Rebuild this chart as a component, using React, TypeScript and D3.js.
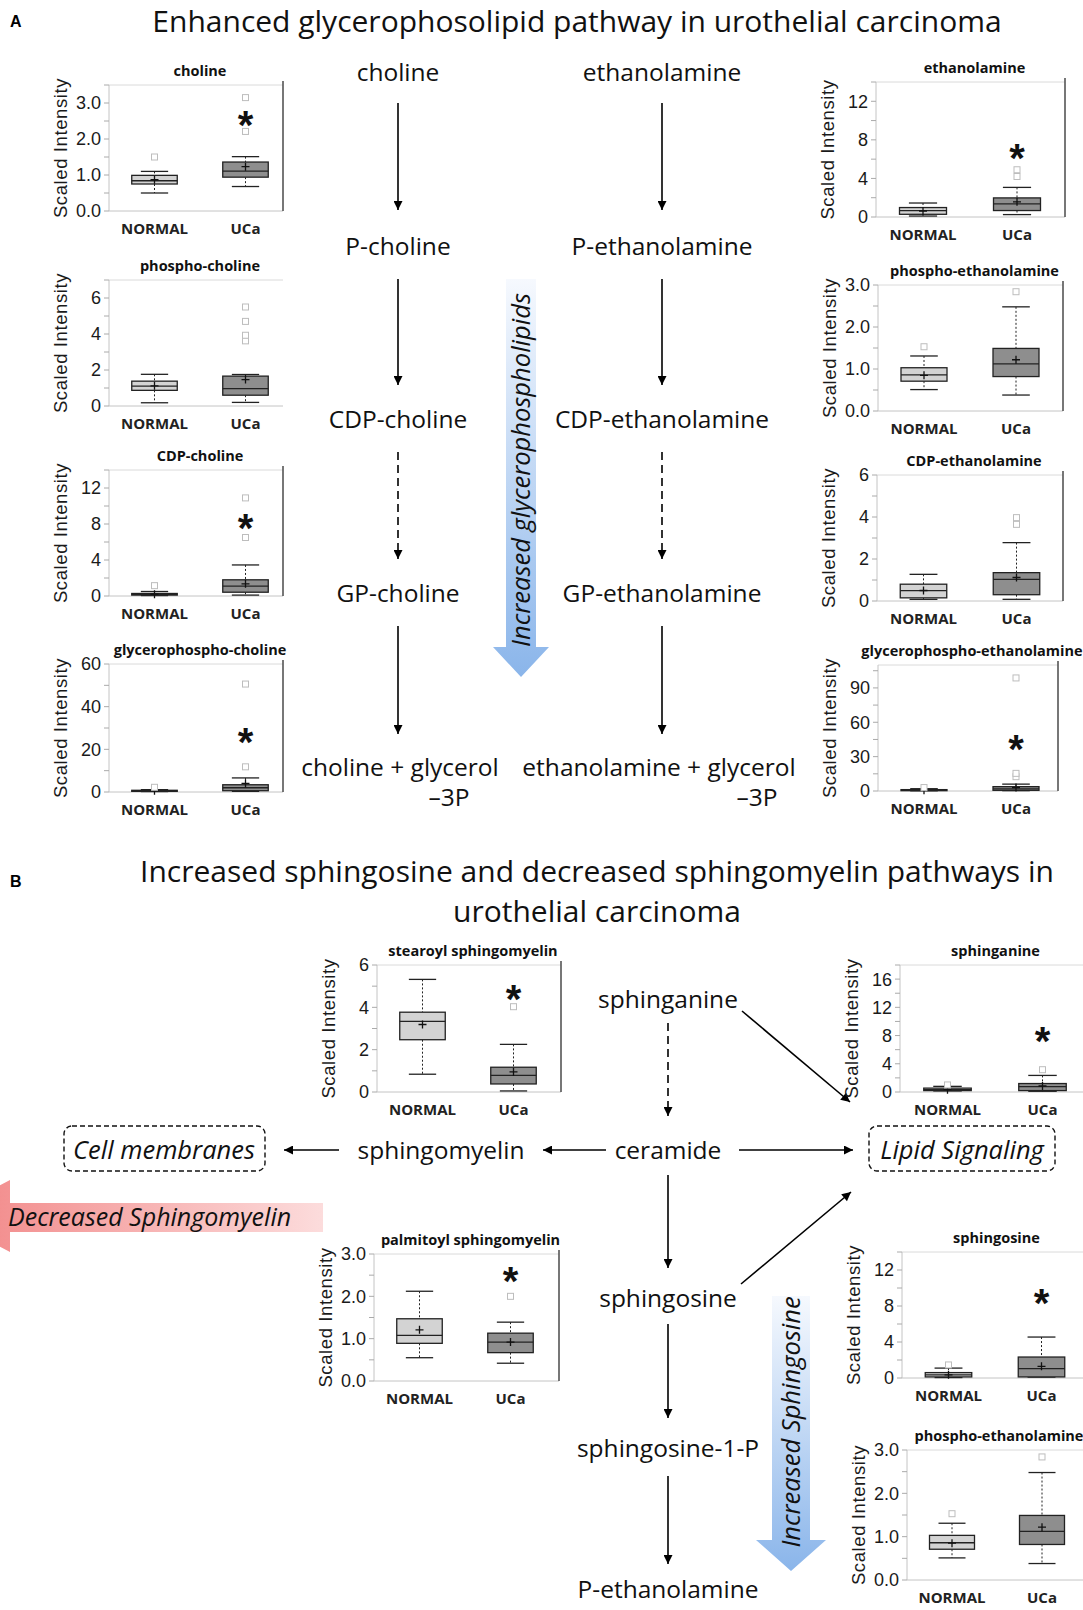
import React from 'react';
import * as d3 from 'd3';

// groups on every box plot
const groups = ['NORMAL', 'UCa'];

const panelNames = [
  'choline', 'phospho-choline', 'CDP-choline', 'glycerophospho-choline',
  'ethanolamine', 'phospho-ethanolamine', 'CDP-ethanolamine', 'glycerophospho-ethanolamine',
  'stearoyl sphingomyelin', 'sphinganine', 'palmitoyl sphingomyelin', 'sphingosine',
  'phospho-ethanolamine',
];
const yMaxes = [3.5, 7, 14, 60, 14, 3, 6, 110, 6, 18, 3, 14, 3];
const majorSteps = [1, 2, 4, 20, 4, 1, 2, 30, 2, 4, 1, 4, 1];
const minorSteps = [0.5, 1, 2, 10, 2, 0.5, 1, 15, 1, 2, 0.5, 2, 0.5];

// [low whisker, q1, median, q3, high whisker, mean]
const normalStats = [
  [0.5, 0.75, 0.84, 0.99, 1.1, 0.87],
  [0.18, 0.87, 1.1, 1.38, 1.76, 1.12],
  [0.05, 0.1, 0.18, 0.28, 0.5, 0.2],
  [0.2, 0.3, 0.5, 0.8, 1.1, 0.6],
  [0.1, 0.28, 0.66, 0.98, 1.45, 0.62],
  [0.51, 0.71, 0.86, 1.03, 1.31, 0.85],
  [0.08, 0.15, 0.49, 0.8, 1.27, 0.5],
  [0.2, 0.3, 0.6, 1.2, 2.0, 0.7],
  [0.84, 2.47, 3.34, 3.77, 5.32, 3.19],
  [0.15, 0.2, 0.35, 0.55, 0.8, 0.33],
  [0.55, 0.89, 1.08, 1.47, 2.12, 1.21],
  [0.05, 0.12, 0.35, 0.6, 1.1, 0.35],
  [0.51, 0.71, 0.86, 1.03, 1.31, 0.85],
];
const ucaStats = [
  [0.68, 0.94, 1.11, 1.36, 1.51, 1.23],
  [0.2, 0.6, 0.96, 1.66, 1.75, 1.47],
  [0.1, 0.42, 1.1, 1.8, 3.45, 1.35],
  [0.3, 0.6, 2.0, 3.4, 6.6, 4.0],
  [0.25, 0.67, 1.36, 1.98, 3.07, 1.57],
  [0.38, 0.82, 1.12, 1.49, 2.48, 1.22],
  [0.08, 0.3, 1.03, 1.35, 2.78, 1.12],
  [0.3, 0.6, 1.8, 3.8, 6.0, 3.0],
  [0.05, 0.38, 0.79, 1.17, 2.25, 0.95],
  [0.1, 0.2, 0.75, 1.2, 2.35, 0.85],
  [0.42, 0.67, 0.92, 1.13, 1.39, 0.92],
  [0.1, 0.12, 1.04, 2.33, 4.55, 1.3],
  [0.38, 0.82, 1.12, 1.49, 2.48, 1.22],
];
const normalOutliers = [[1.5], [], [1.15], [2.2], [], [1.53], [], [3], [], [1.0], [], [1.45], [1.53]];
const ucaOutliers = [
  [2.21, 3.15], [3.62, 3.93, 4.7, 5.5], [6.5, 10.9], [11.8, 50.6], [4.2, 4.9], [2.84],
  [3.65, 3.97], [12.5, 15.4, 98.7], [4.03], [3.16], [2.0], [], [2.84],
];
// significance star height (null = none)
const starValues = [2.62, null, 8.5, 27, 6.9, null, null, 44, 4.77, 8.4, 2.55, 9.2, null];

// where each little plot sits
const layout = [
  { x: 109, y: 85, w: 182, h: 126, right: 283, rline: true },
  { x: 109, y: 280, w: 182, h: 126, right: 283, rline: false },
  { x: 109, y: 470, w: 182, h: 126, right: 283, rline: true },
  { x: 109, y: 664, w: 182, h: 128, right: 283, rline: true },
  { x: 876, y: 82, w: 188, h: 135, right: 1065, rline: true },
  { x: 878, y: 285, w: 184, h: 126, right: 1063, rline: true },
  { x: 877, y: 475, w: 186, h: 126, right: 1063, rline: true },
  { x: 878, y: 665, w: 184, h: 126, right: 1058, rline: true },
  { x: 377, y: 965, w: 182, h: 127, right: 561, rline: true },
  { x: 900, y: 965, w: 190, h: 127, right: 1083, rline: false },
  { x: 374, y: 1254, w: 182, h: 127, right: 559, rline: true },
  { x: 902, y: 1252, w: 186, h: 126, right: 1083, rline: false },
  { x: 907, y: 1450, w: 180, h: 130, right: 1083, rline: false },
];

// pathway labels
const pathLabels = [
  { t: 'choline', x: 398, y: 72 }, { t: 'ethanolamine', x: 662, y: 72 },
  { t: 'P-choline', x: 398, y: 246 }, { t: 'P-ethanolamine', x: 662, y: 246 },
  { t: 'CDP-choline', x: 398, y: 419 }, { t: 'CDP-ethanolamine', x: 662, y: 419 },
  { t: 'GP-choline', x: 398, y: 593 }, { t: 'GP-ethanolamine', x: 662, y: 593 },
  { t: 'choline + glycerol', x: 400, y: 767 }, { t: '\u20133P', x: 449, y: 797 },
  { t: 'ethanolamine + glycerol', x: 659, y: 767 }, { t: '\u20133P', x: 757, y: 797 },
  { t: 'sphinganine', x: 668, y: 999 }, { t: 'ceramide', x: 668, y: 1150 },
  { t: 'sphingomyelin', x: 441, y: 1150 }, { t: 'sphingosine', x: 668, y: 1298 },
  { t: 'sphingosine-1-P', x: 668, y: 1448 }, { t: 'P-ethanolamine', x: 668, y: 1589 },
];
// [x1, y1, x2, y2, dashed]
const pathArrows: [number, number, number, number, boolean][] = [
  [398, 103, 398, 210, false], [398, 279, 398, 385, false], [398, 452, 398, 559, true], [398, 626, 398, 734, false],
  [662, 103, 662, 210, false], [662, 279, 662, 385, false], [662, 452, 662, 559, true], [662, 626, 662, 734, false],
  [668, 1023, 668, 1116, true], [742, 1011, 850, 1102, false],
  [606, 1150, 543, 1150, false], [339, 1150, 284, 1150, false], [739, 1150, 853, 1150, false],
  [668, 1175, 668, 1268, false], [741, 1284, 851, 1192, false],
  [668, 1324, 668, 1418, false], [668, 1476, 668, 1564, false],
];

const sans = "'Liberation Sans', Arial, sans-serif";
const open = "'Open Sans', sans-serif";

function BoxPanel({ i }: { i: number }) {
  const L = layout[i];
  const y0 = L.y + L.h;
  const y = d3.scaleLinear().domain([0, yMaxes[i]]).range([y0, L.y]);
  const x = d3.scalePoint<string>().domain(groups).range([L.x, L.x + L.w]).padding(0.5);
  const bw = L.w * 0.25;
  const cw = bw * 0.6;
  const majors = d3.range(0, yMaxes[i] + 1e-9, majorSteps[i]);
  const minors = d3.range(0, yMaxes[i] + 1e-9, minorSteps[i]);
  const fmt = d3.format(majorSteps[i] < 2 ? '.1f' : '.0f');
  const stats = [normalStats[i], ucaStats[i]];
  const outs = [normalOutliers[i], ucaOutliers[i]];
  const fills = ['#d3d3d3', '#8e8e8e'];
  const star = starValues[i];

  return (
    <g>
      <text x={(L.x + L.right) / 2 + 4} y={L.y - 9} textAnchor="middle" fontFamily={open} fontWeight={700} fontSize={14.5} fill="#111">{panelNames[i]}</text>
      <line x1={L.x} x2={L.right} y1={L.y} y2={L.y} stroke="#dadada" />
      <line x1={L.x} x2={L.x} y1={L.y} y2={y0} stroke="#c4c4c4" />
      <line x1={L.x} x2={L.right} y1={y0} y2={y0} stroke="#c4c4c4" />
      {L.rline && <line x1={L.right} x2={L.right} y1={L.y - 4} y2={y0} stroke="#555" strokeWidth={1.6} />}
      {minors.map((v) => (
        <line key={'m' + v} x1={L.x - 5} x2={L.x} y1={y(v)} y2={y(v)} stroke="#aaa" />
      ))}
      {majors.map((v) => (
        <text key={'t' + v} x={L.x - 8} y={y(v)} dy="0.36em" textAnchor="end" fontFamily={sans} fontSize={18} fill="#1a1a1a">{fmt(v)}</text>
      ))}
      <text transform={`translate(${L.x - 49},${L.y + L.h / 2}) rotate(-90)`} textAnchor="middle" dy="0.36em"
        fontFamily={sans} fontSize={18.5} letterSpacing={0.6} fill="#1a1a1a">Scaled Intensity</text>
      {groups.map((g, k) => {
        const cx = x(g)!;
        const [lo, q1, med, q3, hi, mean] = stats[k];
        return (
          <g key={g}>
            <line x1={cx} x2={cx} y1={y(hi)} y2={y(q3)} stroke="#222" strokeDasharray="2,2" />
            <line x1={cx} x2={cx} y1={y(q1)} y2={y(lo)} stroke="#222" strokeDasharray="2,2" />
            <line x1={cx - cw / 2} x2={cx + cw / 2} y1={y(hi)} y2={y(hi)} stroke="#222" strokeWidth={1.3} />
            <line x1={cx - cw / 2} x2={cx + cw / 2} y1={y(lo)} y2={y(lo)} stroke="#222" strokeWidth={1.3} />
            <rect x={cx - bw / 2} y={y(q3)} width={bw} height={Math.max(1, y(q1) - y(q3))} fill={fills[k]} stroke="#222" strokeWidth={1.3} />
            <line x1={cx - bw / 2} x2={cx + bw / 2} y1={y(med)} y2={y(med)} stroke="#222" strokeWidth={1.3} />
            <path d={`M${cx - 4},${y(mean)}H${cx + 4}M${cx},${y(mean) - 4}V${y(mean) + 4}`} stroke="#111" strokeWidth={1.3} />
            {outs[k].map((o) => (
              <rect key={o} x={cx - 3} y={y(o) - 3} width={6} height={6} fill="#fff" stroke="#bdbdbd" />
            ))}
            <text x={cx} y={y0 + 23} textAnchor="middle" fontFamily={open} fontWeight={700} fontSize={15} fill="#222">{g}</text>
          </g>
        );
      })}
      {star !== null && (
        <text x={x('UCa')!} y={y(star) + 22} textAnchor="middle" fontFamily={sans} fontWeight={700} fontSize={40} fill="#111">*</text>
      )}
    </g>
  );
}

export default function App() {
  return (
    <div style={{ position: 'absolute', left: 0, top: 0 }}>
      <svg width={1083} height={1610} viewBox="0 0 1083 1610" style={{ display: 'block', background: '#fff' }}>
        <defs>
          <marker id="ah" viewBox="0 0 10 10" refX={10} refY={5} markerWidth={11} markerHeight={9}
            markerUnits="userSpaceOnUse" orient="auto">
            <path d="M0,0L10,5L0,10z" fill="#000" />
          </marker>
          <linearGradient id="blueA" x1="0" y1="0" x2="0" y2="1">
            <stop offset="0" stopColor="#f6f9fe" />
            <stop offset="1" stopColor="#8ab5ea" />
          </linearGradient>
          <linearGradient id="redB" x1="0" y1="0" x2="1" y2="0">
            <stop offset="0" stopColor="#ee6363" />
            <stop offset="0.08" stopColor="#f28a8a" />
            <stop offset="1" stopColor="#fcdcdc" />
          </linearGradient>
        </defs>

        <text x={10} y={27} fontFamily={sans} fontWeight={700} fontSize={16}>A</text>
        <text x={577} y={32} textAnchor="middle" fontFamily={open} fontSize={30} fill="#111">Enhanced glycerophosolipid pathway in urothelial carcinoma</text>

        {/* big blue arrow, panel A */}
        <path d="M506,279H536V647H549L521,677L493,647H506Z" fill="url(#blueA)" />
        <text transform="translate(521,470) rotate(-90)" textAnchor="middle" dy="0.36em" fontFamily={open}
          fontStyle="italic" fontSize={25.5} fill="#111">Increased glycerophospholipids</text>

        <text x={10} y={887} fontFamily={sans} fontWeight={700} fontSize={16}>B</text>
        <text x={597} y={882} textAnchor="middle" fontFamily={open} fontSize={30} fill="#111">Increased sphingosine and decreased sphingomyelin pathways in</text>
        <text x={597} y={922} textAnchor="middle" fontFamily={open} fontSize={30} fill="#111">urothelial carcinoma</text>

        {/* red arrow, decreased sphingomyelin */}
        <path d="M323,1203V1232H10V1252L-60,1216L10,1180V1203Z" fill="url(#redB)" />
        <text x={8} y={1217} dy="0.36em" fontFamily={open} fontStyle="italic" fontSize={25} fill="#111">Decreased Sphingomyelin</text>

        {/* blue arrow, increased sphingosine */}
        <path d="M772,1296H810V1540H826L791,1571L756,1540H772Z" fill="url(#blueA)" />
        <text transform="translate(791,1422) rotate(-90)" textAnchor="middle" dy="0.36em" fontFamily={open}
          fontStyle="italic" fontSize={25.5} fill="#111">Increased Sphingosine</text>

        {/* dashed boxes */}
        <rect x={64} y={1126} width={201} height={45} rx={8} fill="none" stroke="#111" strokeWidth={1.4} strokeDasharray="5,3" />
        <text x={164} y={1150} dy="0.36em" textAnchor="middle" fontFamily={open} fontStyle="italic" fontSize={25.5} fill="#111">Cell membranes</text>
        <rect x={869} y={1126} width={186} height={45} rx={8} fill="none" stroke="#111" strokeWidth={1.4} strokeDasharray="5,3" />
        <text x={962} y={1150} dy="0.36em" textAnchor="middle" fontFamily={open} fontStyle="italic" fontSize={25.5} fill="#111">Lipid Signaling</text>

        {pathArrows.map(([x1, y1, x2, y2, dashed], k) => (
          <line key={k} x1={x1} y1={y1} x2={x2} y2={y2} stroke="#000" strokeWidth={1.6}
            strokeDasharray={dashed ? '8,5' : undefined} markerEnd="url(#ah)" />
        ))}
        {pathLabels.map((p, k) => (
          <text key={k} x={p.x} y={p.y} dy="0.36em" textAnchor="middle" fontFamily={open} fontSize={24.5} fill="#111">{p.t}</text>
        ))}

        {layout.map((_, i) => <BoxPanel key={i} i={i} />)}
      </svg>
    </div>
  );
}
